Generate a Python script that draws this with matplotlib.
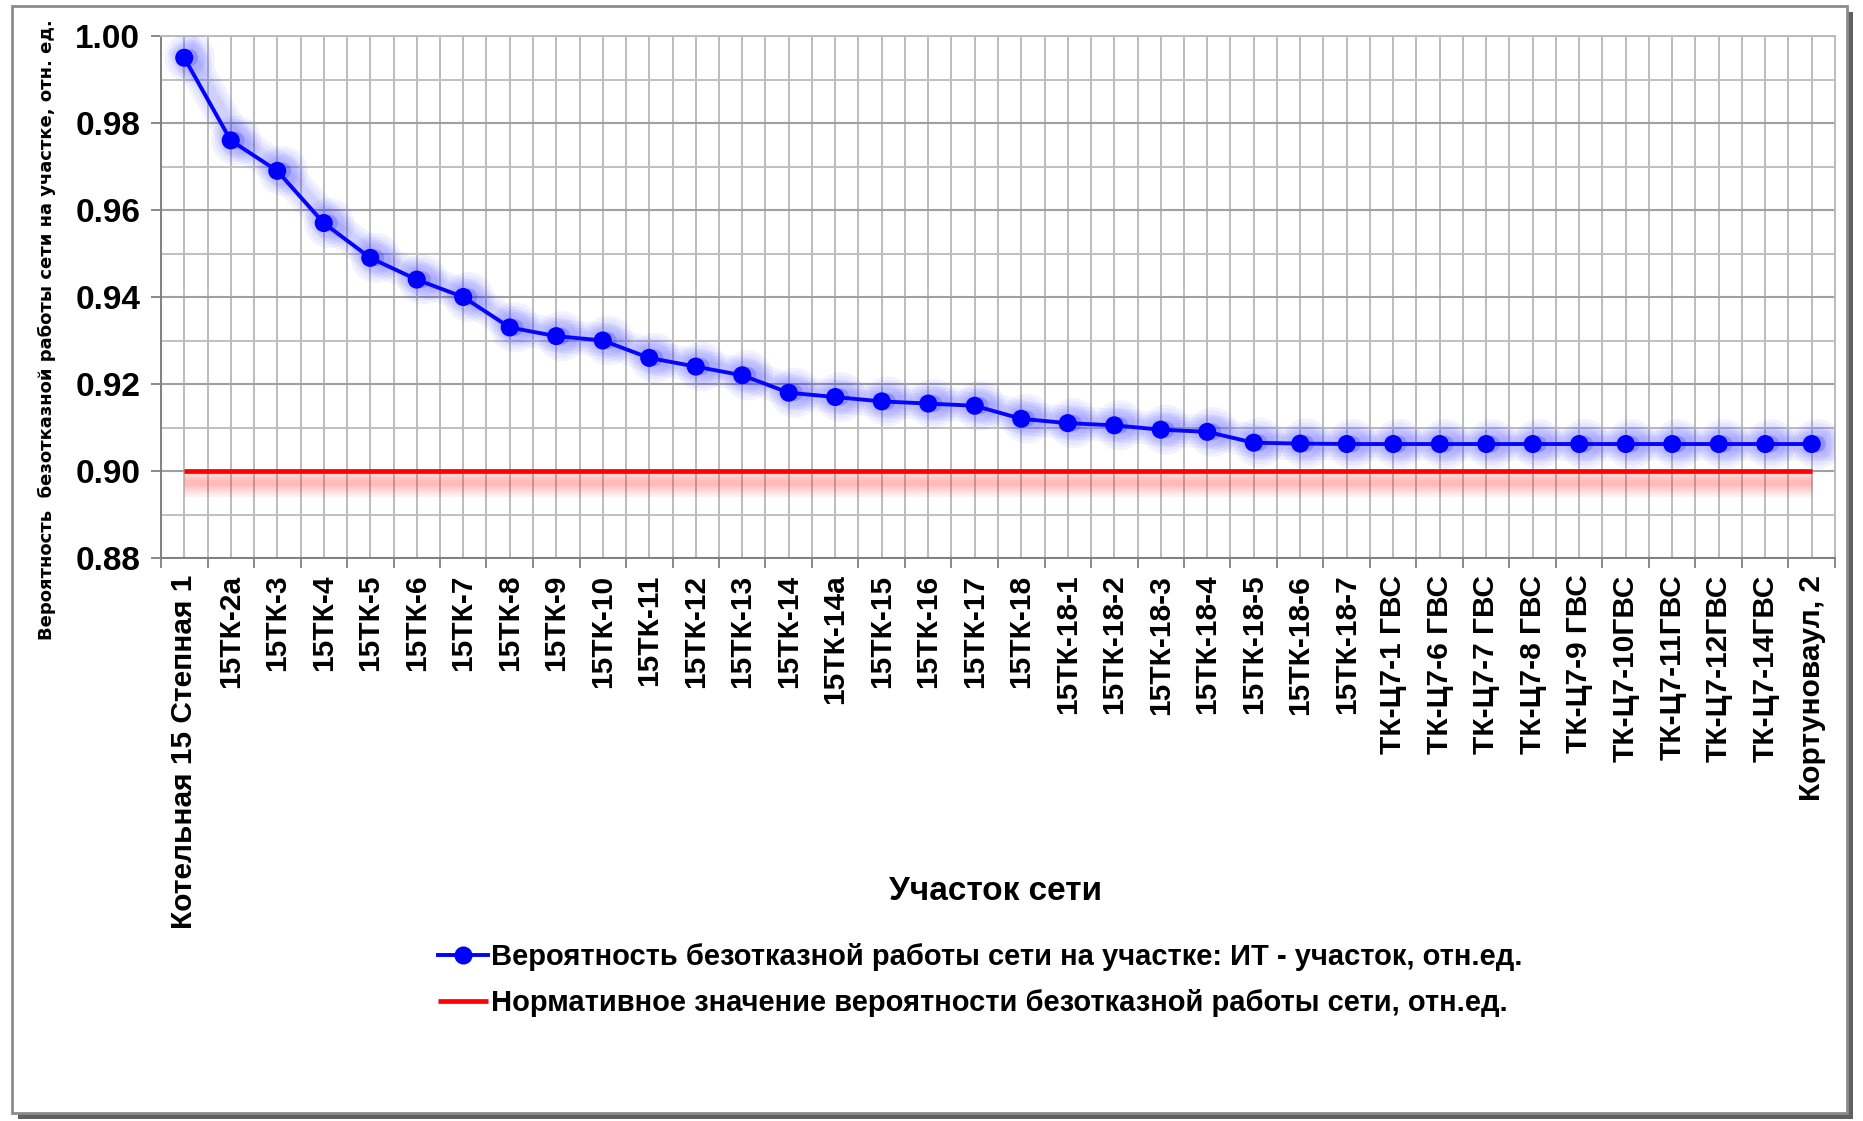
import matplotlib
matplotlib.use('Agg')
import matplotlib.pyplot as plt
import matplotlib.patheffects as pe
from matplotlib.patches import Rectangle
from matplotlib.ticker import MultipleLocator, FormatStrFormatter, FixedLocator
import numpy as np

categories = [
    "Котельная 15 Степная 1", "15ТК-2а", "15ТК-3", "15ТК-4", "15ТК-5", "15ТК-6",
    "15ТК-7", "15ТК-8", "15ТК-9", "15ТК-10", "15ТК-11", "15ТК-12", "15ТК-13",
    "15ТК-14", "15ТК-14а", "15ТК-15", "15ТК-16", "15ТК-17", "15ТК-18",
    "15ТК-18-1", "15ТК-18-2", "15ТК-18-3", "15ТК-18-4", "15ТК-18-5", "15ТК-18-6",
    "15ТК-18-7", "ТК-Ц7-1 ГВС", "ТК-Ц7-6 ГВС", "ТК-Ц7-7 ГВС", "ТК-Ц7-8 ГВС",
    "ТК-Ц7-9 ГВС", "ТК-Ц7-10ГВС", "ТК-Ц7-11ГВС", "ТК-Ц7-12ГВС", "ТК-Ц7-14ГВС",
    "Кортуноваул, 2",
]
reliability = [
    0.995, 0.976, 0.969, 0.957, 0.949, 0.944, 0.940, 0.933, 0.931, 0.930,
    0.926, 0.924, 0.922, 0.918, 0.917, 0.916, 0.9155, 0.915, 0.912, 0.911,
    0.9105, 0.9095, 0.909, 0.9065, 0.9063, 0.9062, 0.9062, 0.9062, 0.9062,
    0.9062, 0.9062, 0.9062, 0.9062, 0.9062, 0.9062, 0.9062,
]
norm_value = 0.90

series_label = "Вероятность безотказной работы сети на участке: ИТ - участок, отн.ед."
norm_label = "Нормативное значение вероятности безотказной работы сети, отн.ед."
x_title = "Участок сети"
y_title = "Вероятность  безотказной работы сети на участке, отн. ед."

SANS = ['Liberation Sans', 'DejaVu Sans']

W, H = 1863, 1121
fig = plt.figure(figsize=(W / 100, H / 100), dpi=100)
fig.patch.set_facecolor('white')

# outer frame with shadow
fx0, fy0, fx1, fy1 = 12, 6, 1847, 1113
fig.patches.append(Rectangle(((fx0 + 6) / W, 1 - (fy1 + 6) / H), (fx1 - fx0) / W, (fy1 - fy0) / H,
                             transform=fig.transFigure, facecolor='#606060', edgecolor='none', zorder=-3))
fig.patches.append(Rectangle((fx0 / W, 1 - fy1 / H), (fx1 - fx0) / W, (fy1 - fy0) / H,
                             transform=fig.transFigure, facecolor='white', edgecolor='#8c8c8c',
                             linewidth=2, zorder=-2))

L, R, T, B = 161, 1835, 36, 558
ax = fig.add_axes([L / W, 1 - B / H, (R - L) / W, (B - T) / H])
ax.set_facecolor('none')

n = len(categories)
x = np.arange(n)

ax.set_xlim(-0.5, n - 0.5)
ax.set_ylim(0.88, 1.00)

ax.yaxis.set_major_locator(MultipleLocator(0.02))
ax.yaxis.set_minor_locator(MultipleLocator(0.01))
ax.yaxis.set_major_formatter(FormatStrFormatter('%.2f'))
ax.xaxis.set_major_locator(FixedLocator(x))
ax.xaxis.set_minor_locator(FixedLocator(np.arange(n + 1) - 0.5))
ax.set_xticklabels(categories, rotation=90, fontsize=21.5, fontweight='bold', family=SANS)
for lab in ax.get_yticklabels():
    lab.set_fontsize(24)
    lab.set_fontweight('bold')
    lab.set_family(SANS)

ax.tick_params(axis='x', which='major', length=0, pad=12)
ax.tick_params(axis='x', which='minor', length=7, color='#808080', width=1.3)
ax.tick_params(axis='y', which='major', length=7, color='#808080', width=1.3, pad=8)
ax.tick_params(axis='y', which='minor', length=0)

ax.grid(True, which='major', axis='y', color='#a0a0a0', linewidth=1.5)
ax.grid(True, which='minor', axis='y', color='#c0c0c0', linewidth=1.4)
ax.grid(True, which='both', axis='x', color='#bcbcbc', linewidth=1.4)
ax.set_axisbelow(True)
for side in ['left', 'bottom']:
    ax.spines[side].set_color('#808080')
    ax.spines[side].set_linewidth(1.4)
for side in ['top', 'right']:
    ax.spines[side].set_color('#bcbcbc')
    ax.spines[side].set_linewidth(1.4)

# normative line with soft shadow
red_fx = [pe.SimpleLineShadow(offset=(0, -k), shadow_color='#ff2020', alpha=0.07, linewidth=12)
          for k in (4, 6, 8, 10, 12)] + [pe.Normal()]
ax.plot([x[0], x[-1]], [norm_value, norm_value], color='#ff0000', linewidth=3.4,
        solid_capstyle='butt', path_effects=red_fx, zorder=3, label=norm_label)

# series with glow
blue_fx = [pe.Stroke(linewidth=w, foreground='#3030ff', alpha=0.06, offset=(4, 0))
           for w in (24, 19, 14, 10)] + [pe.Normal()]
ax.plot(x, reliability, color='#0000ff', linewidth=2.8, marker='o', markersize=12,
        markerfacecolor='#0000ff', markeredgecolor='#0000ff', path_effects=blue_fx,
        zorder=4, label=series_label)

fig.text(996 / W, 1 - 892 / H, x_title, ha='center', va='center', fontsize=24, fontweight='bold',
         family=SANS)
fig.text(47 / W, 1 - 330 / H, y_title, ha='center', va='center', rotation=90, fontsize=13,
         fontweight='bold', family=['DejaVu Sans'])

handles, labels = ax.get_legend_handles_labels()
handles = [handles[1], handles[0]]
labels = [labels[1], labels[0]]
leg = fig.legend(handles, labels, loc='center left', bbox_to_anchor=(438 / W, 1 - 980 / H),
                 frameon=False, handlelength=1.7, handletextpad=0.12, labelspacing=0.62,
                 borderpad=0, borderaxespad=0,
                 prop={'family': SANS, 'weight': 'bold', 'size': 21})
for h in leg.legend_handles:
    h.set_path_effects([])

fig.savefig('out.png', dpi=100)
